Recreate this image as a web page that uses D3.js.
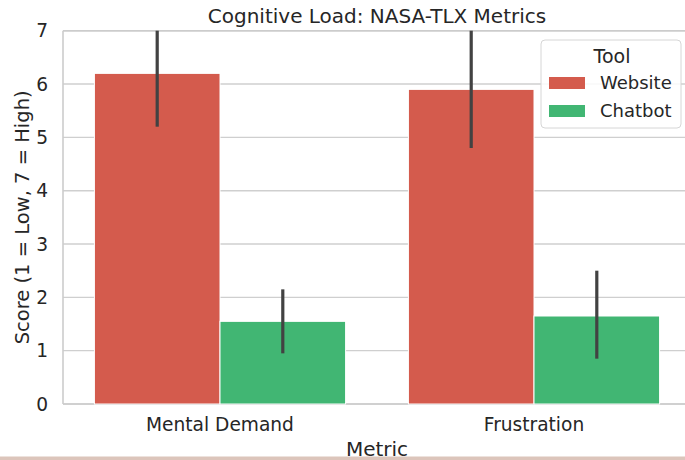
<!doctype html>
<html lang="en">
<head>
<meta charset="utf-8">
<title>Cognitive Load: NASA-TLX Metrics</title>
<script src="https://cdn.jsdelivr.net/npm/d3@7"></script>
<style>
  body { margin: 0; background: #ffffff; }
  svg text { font-family: "DejaVu Sans", sans-serif; fill: #262626; }
</style>
</head>
<body>
<svg id="chart" width="685" height="460"></svg>
<script>
// data
var metrics = ["Mental Demand", "Frustration"];
var tools = ["Website", "Chatbot"];
var websiteMean = [6.2, 5.9];
var chatbotMean = [1.55, 1.65];
var websiteLow = [5.2, 4.8];
var websiteHigh = [7.0, 7.0];
var chatbotLow = [0.95, 0.85];
var chatbotHigh = [2.15, 2.5];
var yTicks = [0, 1, 2, 3, 4, 5, 6, 7];
var toolColors = ["#d45b4d", "#41b673"];

var rows = [];
metrics.forEach(function (m, i) {
  rows.push({ metric: m, tool: "Website", mean: websiteMean[i], lo: websiteLow[i], hi: websiteHigh[i] });
  rows.push({ metric: m, tool: "Chatbot", mean: chatbotMean[i], lo: chatbotLow[i], hi: chatbotHigh[i] });
});

var svg = d3.select("#chart");
var plotLeft = 63, plotRight = 691, plotTop = 30.7, plotBottom = 404;

var x = d3.scaleBand().domain(metrics).range([plotLeft, plotRight]).paddingInner(0).paddingOuter(0);
var xInner = d3.scaleBand().domain(tools).range([0, x.bandwidth() * 0.8]);
var y = d3.scaleLinear().domain([0, 7]).range([plotBottom, plotTop]);
var color = d3.scaleOrdinal().domain(tools).range(toolColors);

// grid
svg.append("g")
  .selectAll("line")
  .data(yTicks)
  .enter()
  .append("line")
  .attr("x1", plotLeft).attr("x2", plotRight)
  .attr("y1", function (d) { return y(d); })
  .attr("y2", function (d) { return y(d); })
  .attr("stroke", "#cfcfcf")
  .attr("stroke-width", 1.4);

// spines
svg.append("line").attr("x1", plotLeft).attr("x2", plotLeft).attr("y1", plotTop).attr("y2", plotBottom)
  .attr("stroke", "#cccccc").attr("stroke-width", 1.6);
svg.append("line").attr("x1", plotLeft).attr("x2", plotRight).attr("y1", plotBottom).attr("y2", plotBottom)
  .attr("stroke", "#cccccc").attr("stroke-width", 1.6);
svg.append("line").attr("x1", plotLeft).attr("x2", plotRight).attr("y1", plotTop).attr("y2", plotTop)
  .attr("stroke", "#cccccc").attr("stroke-width", 1.6);

// bars
function barX(d) { return x(d.metric) + x.bandwidth() * 0.1 + xInner(d.tool); }
svg.append("g")
  .selectAll("rect")
  .data(rows)
  .enter()
  .append("rect")
  .attr("x", barX)
  .attr("width", xInner.bandwidth())
  .attr("y", function (d) { return y(d.mean); })
  .attr("height", function (d) { return y(0) - y(d.mean); })
  .attr("fill", function (d) { return color(d.tool); })
  .attr("stroke", "#ffffff")
  .attr("stroke-width", 1);

// error bars
svg.append("g")
  .selectAll("line")
  .data(rows)
  .enter()
  .append("line")
  .attr("x1", function (d) { return barX(d) + xInner.bandwidth() / 2; })
  .attr("x2", function (d) { return barX(d) + xInner.bandwidth() / 2; })
  .attr("y1", function (d) { return y(d.lo); })
  .attr("y2", function (d) { return y(d.hi); })
  .attr("stroke", "#424242")
  .attr("stroke-width", 3.2);

// y axis labels
svg.append("g")
  .selectAll("text")
  .data(yTicks)
  .enter()
  .append("text")
  .attr("x", 48)
  .attr("y", function (d) { return y(d); })
  .attr("dy", "0.36em")
  .attr("text-anchor", "end")
  .style("font-size", "18.6px")
  .text(function (d) { return d; });

// x axis labels
svg.append("g")
  .selectAll("text")
  .data(metrics)
  .enter()
  .append("text")
  .attr("x", function (d) { return x(d) + x.bandwidth() / 2; })
  .attr("y", 431)
  .attr("text-anchor", "middle")
  .style("font-size", "18.6px")
  .text(function (d) { return d; });

svg.append("text")
  .attr("x", (plotLeft + plotRight) / 2)
  .attr("y", 456)
  .attr("text-anchor", "middle")
  .style("font-size", "20px")
  .text("Metric");

svg.append("text")
  .attr("transform", "translate(29," + (plotTop + plotBottom) / 2 + ") rotate(-90)")
  .attr("text-anchor", "middle")
  .style("font-size", "19.5px")
  .text("Score (1 = Low, 7 = High)");

svg.append("text")
  .attr("x", (plotLeft + plotRight) / 2)
  .attr("y", 23)
  .attr("text-anchor", "middle")
  .style("font-size", "20px")
  .text("Cognitive Load: NASA-TLX Metrics");

// legend
var legend = svg.append("g").attr("transform", "translate(541,40)");
legend.append("rect")
  .attr("width", 140).attr("height", 88).attr("rx", 4)
  .attr("fill", "#ffffff").attr("fill-opacity", 0.85)
  .attr("stroke", "#d6d6d6").attr("stroke-width", 1);
legend.append("text")
  .attr("x", 71).attr("y", 23)
  .attr("text-anchor", "middle")
  .style("font-size", "19px")
  .text("Tool");
var item = legend.selectAll(".item")
  .data(tools)
  .enter()
  .append("g")
  .attr("class", "item")
  .attr("transform", function (d, i) { return "translate(0," + (43 + i * 28) + ")"; });
item.append("rect")
  .attr("x", 8).attr("y", -6).attr("width", 36).attr("height", 12)
  .attr("fill", function (d) { return color(d); });
item.append("text")
  .attr("x", 59).attr("dy", "0.36em")
  .style("font-size", "18px")
  .text(function (d) { return d; });

// strip along the bottom edge of the screenshot
svg.append("rect").attr("x", 0).attr("y", 456.5).attr("width", 685).attr("height", 4)
  .attr("fill", "#dcc5bb");
</script>
</body>
</html>
